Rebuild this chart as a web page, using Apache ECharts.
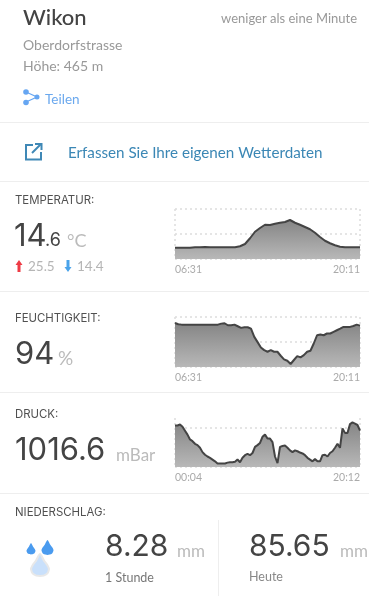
<!DOCTYPE html>
<html>
<head>
<meta charset="utf-8">
<title>Wikon</title>
<script src="https://cdn.jsdelivr.net/npm/echarts@6/dist/echarts.min.js"></script>
<style>
    html, body { margin: 0; padding: 0; background: #fff; }
    #main { width: 369px; height: 605px; }
</style>
</head>
<body>
<div id="main"></div>
<script>
var tempStart = '06:31', tempEnd = '20:11';
var tempValues = [14.5,14.5,14.5,14.5,14.7,14.7,14.8,14.7,14.7,14.7,14.7,14.7,14.7,15.1,16.0,18.3,20.9,22.4,23.7,23.6,24.1,24.5,24.8,25.6,24.5,23.7,22.8,21.9,20.5,18.8,17.3,16.3,15.5,14.9,14.7,14.7,14.7,14.7];

var humStart = '06:31', humEnd = '20:11';
var humValues = [95.2,94.2,93.9,93.9,93.9,93.9,93.9,93.9,93.9,93.9,93.9,93.9,93.9,93.9,94.7,95.0,93.4,93.4,93.9,92.6,91.3,91.8,91.8,90.7,84.1,79.9,75.6,73.5,72.2,73.5,72.2,72.2,69.0,66.1,65.0,62.4,65.6,68.7,67.7,69.5,72.2,73.0,78.8,85.4,86.0,85.4,86.8,86.8,88.1,89.4,90.7,92.1,92.1,92.1,92.8,93.9,93.1];

var pressStart = '00:04', pressEnd = '20:12';
var pressValues = [1017.5,1017.5,1017.7,1017.2,1016.3,1015.4,1014.3,1013.9,1013.3,1013.0,1012.4,1011.4,1010.8,1010.4,1010.1,1009.7,1009.3,1008.8,1008.8,1008.8,1008.8,1009.0,1009.1,1009.1,1009.2,1009.7,1009.1,1010.1,1010.7,1011.0,1010.7,1011.2,1012.6,1013.0,1013.5,1014.9,1015.4,1014.5,1014.5,1013.7,1010.4,1008.9,1012.6,1012.8,1012.9,1012.4,1011.8,1011.4,1011.8,1011.6,1011.3,1011.1,1010.7,1010.1,1009.7,1009.3,1009.8,1009.3,1009.3,1010.7,1010.8,1010.4,1011.2,1011.6,1012.4,1013.3,1012.4,1016.8,1015.8,1015.8,1017.8,1018.2,1017.9,1017.6,1016.3];

var FONT = 'Lato, "Open Sans", sans-serif';
var NUMFONT = 'Inter, Lato, sans-serif';

// blank categories except first and last, those are the only labels shown
function cats(first, last, n) {
    var list = [];
    for (var i = 0; i < n; i++) list.push('');
    list[0] = first;
    list[n - 1] = last;
    return list;
}

function txt(x, y, text, size, color, extra) {
    extra = extra || {};
    return {
        type: 'text', x: x, y: y, silent: true,
        style: {
            text: text, fontSize: size, fontFamily: extra.font || FONT, fill: color,
            fontWeight: extra.weight || 400,
            align: extra.align || 'left', verticalAlign: 'middle'
        }
    };
}

function num(x, y, text, size) {
    return txt(x, y, text, size, '#444444', { font: NUMFONT });
}

function head(y, text) {
    return txt(15, y, text, 11.4, '#505050', { font: NUMFONT });
}

function hr(y) {
    return { type: 'rect', silent: true, shape: { x: 0, y: y, width: 369, height: 1 }, style: { fill: '#eeeeee' } };
}

function drop(x, y, w, h, fill, stroke) {
    var outline = [[0.5, 0], [0.72, 0.3], [0.92, 0.52], [1, 0.7], [0.86, 0.92], [0.5, 1], [0.14, 0.92], [0, 0.7], [0.08, 0.52], [0.28, 0.3]];
    return {
        type: 'polygon', silent: true,
        shape: {
            smooth: 0.25,
            points: outline.map(function (p) { return [x + p[0] * w, y + p[1] * h]; })
        },
        style: { fill: fill, stroke: stroke || null, lineWidth: stroke ? 2 : 0 }
    };
}

function arrow(x, y, dir, color) {
    // dir 1 is up, -1 is down
    var h = 12, c = y + (dir > 0 ? 0 : h), s = dir;
    return {
        type: 'polygon', silent: true,
        shape: { points: [[x + 3.5, c], [x + 7, c + s * 5], [x + 5, c + s * 5], [x + 5, c + s * h], [x + 2, c + s * h], [x + 2, c + s * 5], [x, c + s * 5]] },
        style: { fill: color }
    };
}

var graphics = [
    txt(23, 18, 'Wikon', 22, '#444444', { weight: 500 }),
    txt(357, 19, 'weniger als eine Minute', 13, '#999999', { align: 'right' }),
    txt(23, 45, 'Oberdorfstrasse', 14, '#999999'),
    txt(23, 66, 'Höhe: 465 m', 14, '#999999'),
    { type: 'polyline', silent: true, shape: { points: [[26, 92], [37, 97], [26, 102]] }, style: { stroke: '#66a6f2', lineWidth: 1.2, fill: null } },
    { type: 'circle', silent: true, shape: { cx: 26, cy: 92, r: 2.8 }, style: { fill: '#66a6f2' } },
    { type: 'circle', silent: true, shape: { cx: 37, cy: 97, r: 2.5 }, style: { fill: '#66a6f2' } },
    { type: 'circle', silent: true, shape: { cx: 26, cy: 102.5, r: 2.8 }, style: { fill: '#66a6f2' } },
    txt(45, 99.5, 'Teilen', 13.5, '#6aa8ee'),
    hr(122),
    { type: 'polyline', silent: true, shape: { points: [[33, 145], [26, 145], [26, 159.5], [41, 159.5], [41, 152]] }, style: { stroke: '#3f88b6', lineWidth: 2, fill: null } },
    { type: 'polyline', silent: true, shape: { points: [[32, 153], [41, 144]] }, style: { stroke: '#3f88b6', lineWidth: 2, fill: null } },
    { type: 'polyline', silent: true, shape: { points: [[35, 144], [41.5, 144], [41.5, 150]] }, style: { stroke: '#3f88b6', lineWidth: 2, fill: null } },
    txt(68, 153.5, 'Erfassen Sie Ihre eigenen Wetterdaten', 15.2, '#3b87b5'),
    hr(181),

    head(200.5, 'TEMPERATUR:'),
    num(14, 237, '14', 31),
    num(45, 241, '.6', 18),
    txt(67, 241, '°C', 18, '#bbbbbb'),
    arrow(15.5, 260, 1, '#ee3b45'),
    txt(28, 267, '25.5', 13.5, '#b5b5b5'),
    arrow(64.5, 260, -1, '#4aa3ea'),
    txt(77, 267, '14.4', 13.5, '#b5b5b5'),
    hr(291),

    head(318.5, 'FEUCHTIGKEIT:'),
    num(15, 355, '94', 31),
    txt(58, 359, '%', 19, '#bbbbbb'),
    hr(392),

    head(414.5, 'DRUCK:'),
    num(15, 451, '1016.6', 31),
    txt(116, 456, 'mBar', 17, '#bbbbbb'),
    hr(493),

    head(512.5, 'NIEDERSCHLAG:'),
    drop(26.5, 543, 9, 11.5, '#4a9bef'),
    drop(41.5, 540, 12, 15, '#4a9bef'),
    drop(31, 554, 18, 22, '#c9e0fb', '#e8e8e8'),
    num(105, 547, '8.28', 30),
    txt(177, 552, 'mm', 17, '#bbbbbb'),
    txt(105, 578, '1 Stunde', 12.5, '#777777'),
    { type: 'rect', silent: true, shape: { x: 218, y: 520, width: 1, height: 76 }, style: { fill: '#eeeeee' } },
    num(249, 547, '85.65', 30),
    txt(340, 552, 'mm', 17, '#bbbbbb'),
    txt(249, 577, 'Heute', 12.5, '#888888')
];

var dotted = { color: '#dddddd', width: 1.5, type: [2, 3] };

function xAxisFor(idx, first, last, n) {
    return {
        gridIndex: idx,
        type: 'category',
        boundaryGap: false,
        data: cats(first, last, n),
        axisLine: { show: false },
        axisTick: { show: false },
        splitLine: {
            show: true,
            lineStyle: dotted,
            interval: function (i) { return i === 0 || i === n - 1; }
        },
        axisLabel: {
            interval: 0,
            margin: 5,
            fontSize: 10.5,
            fontFamily: FONT,
            color: '#aaaaaa',
            alignMinLabel: 'left',
            alignMaxLabel: 'right'
        }
    };
}

function yAxisFor(idx, min, max, interval, hideTop) {
    return {
        gridIndex: idx,
        type: 'value',
        min: min,
        max: max,
        interval: interval,
        axisLine: { show: false },
        axisTick: { show: false },
        axisLabel: { show: false },
        splitLine: { show: true, lineStyle: dotted, showMaxLine: !hideTop }
    };
}

function seriesFor(idx, values) {
    return {
        type: 'line',
        xAxisIndex: idx,
        yAxisIndex: idx,
        data: values,
        symbol: 'none',
        clip: false,
        z: 5,
        lineStyle: { color: '#444444', width: 2 },
        areaStyle: {
            origin: 'start',
            opacity: 1,
            color: new echarts.graphic.LinearGradient(0, 0, 0, 1, [
                { offset: 0, color: '#858585' },
                { offset: 1, color: '#b8b8b8' }
            ])
        }
    };
}

var chart = echarts.init(document.getElementById('main'));
chart.setOption({
    animation: false,
    backgroundColor: '#ffffff',
    grid: [
        { left: 175, width: 185, top: 209, height: 50 },
        { left: 175, width: 185, top: 317, height: 50 },
        { left: 175, width: 185, top: 418, height: 49 }
    ],
    xAxis: [
        xAxisFor(0, tempStart, tempEnd, tempValues.length),
        xAxisFor(1, humStart, humEnd, humValues.length),
        xAxisFor(2, pressStart, pressEnd, pressValues.length)
    ],
    yAxis: [
        yAxisFor(0, 10, 30, 10),
        yAxisFor(1, 60, 100, 20),
        yAxisFor(2, 1008, 1019.2, 9, true)
    ],
    series: [
        seriesFor(0, tempValues),
        seriesFor(1, humValues),
        seriesFor(2, pressValues)
    ],
    graphic: graphics
});
</script>
</body>
</html>
